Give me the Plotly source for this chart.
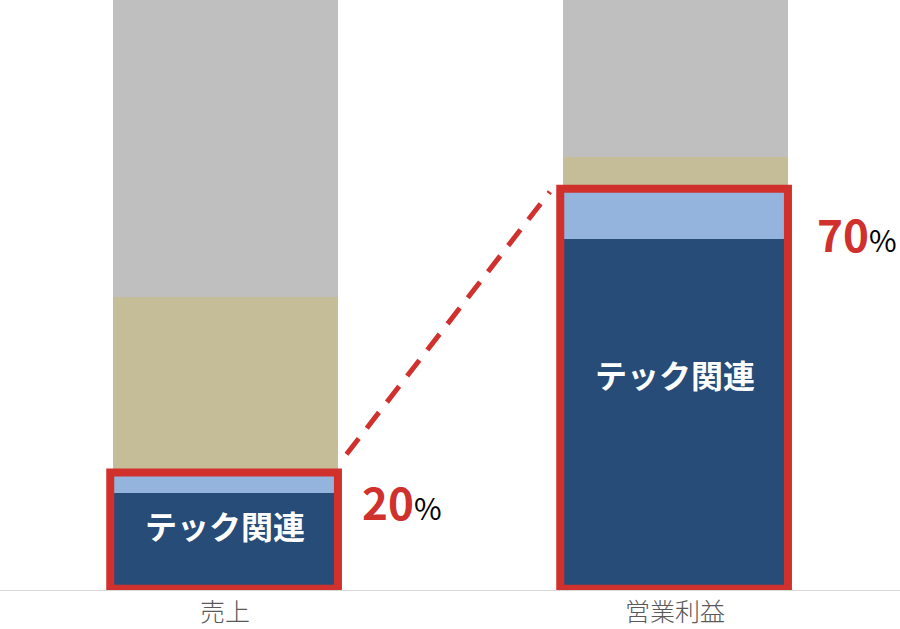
import plotly.graph_objects as go

# data (percent of each total)
categories = ["売上", "営業利益"]
tech_core = [16.4, 59.5]      # テック関連 (dark blue)
tech_other = [3.3, 8.3]       # light blue
segment_tan = [29.9, 5.6]
segment_rest = [50.4, 26.6]
tech_labels = ["20", "70"]

FONT = "Noto Sans CJK JP"
RED = "#D0312D"

fig = go.Figure()
for vals, color in [
    (tech_core, "#264C77"),
    (tech_other, "#94B4DE"),
    (segment_tan, "#C4BD97"),
    (segment_rest, "#BFBFBF"),
]:
    fig.add_trace(go.Bar(x=categories, y=vals, marker_color=color,
                         marker_line_width=0, hoverinfo="skip"))

tech_total = [a + b for a, b in zip(tech_core, tech_other)]
inner_y = [11.0, 36.6]
pct_x = [0.3, 0.311]
pct_y = [20.9, 66.3]

for i, cat in enumerate(categories):
    # red frame round the tech part
    fig.add_shape(type="rect", xref="x", yref="y",
                  x0=i - 0.255, x1=i + 0.251, y0=0.2, y1=tech_total[i] + 0.2,
                  line=dict(color=RED, width=8), fillcolor="rgba(0,0,0,0)",
                  layer="above")
    fig.add_annotation(x=i, y=inner_y[i], text="<b>テック関連</b>",
                       showarrow=False, font=dict(family=FONT, size=32, color="white"))
    fig.add_annotation(x=i + pct_x[i], y=pct_y[i], xanchor="left", yanchor="top",
                       text=f"<b><span style='color:{RED};font-size:44px'>{tech_labels[i]}</span></b>"
                            f"<span style='font-size:30px'>%</span>",
                       showarrow=False, font=dict(family=FONT, size=30, color="black"))

# dashed connector between the two frames
fig.add_shape(type="line", xref="x", yref="y",
              x0=0.27, y0=tech_total[0] + 3.3, x1=1 - 0.278, y1=tech_total[1] - 0.3,
              line=dict(color=RED, width=5, dash="20px,13px"))

fig.update_layout(
    barmode="stack",
    bargap=0.5,
    showlegend=False,
    width=900,
    height=629,
    margin=dict(l=0, r=0, t=0, b=39),
    plot_bgcolor="white",
    paper_bgcolor="white",
    font=dict(family=FONT),
)
fig.update_xaxes(showline=True, linecolor="#D9D9D9", linewidth=1, ticks="",
                 tickfont=dict(family=FONT, size=25, color="#595959", weight=300))
fig.update_yaxes(range=[0, 100], visible=False, showgrid=False)

fig.write_html("out.html", config={"displayModeBar": False},
               post_script="document.body.style.margin='0';")
